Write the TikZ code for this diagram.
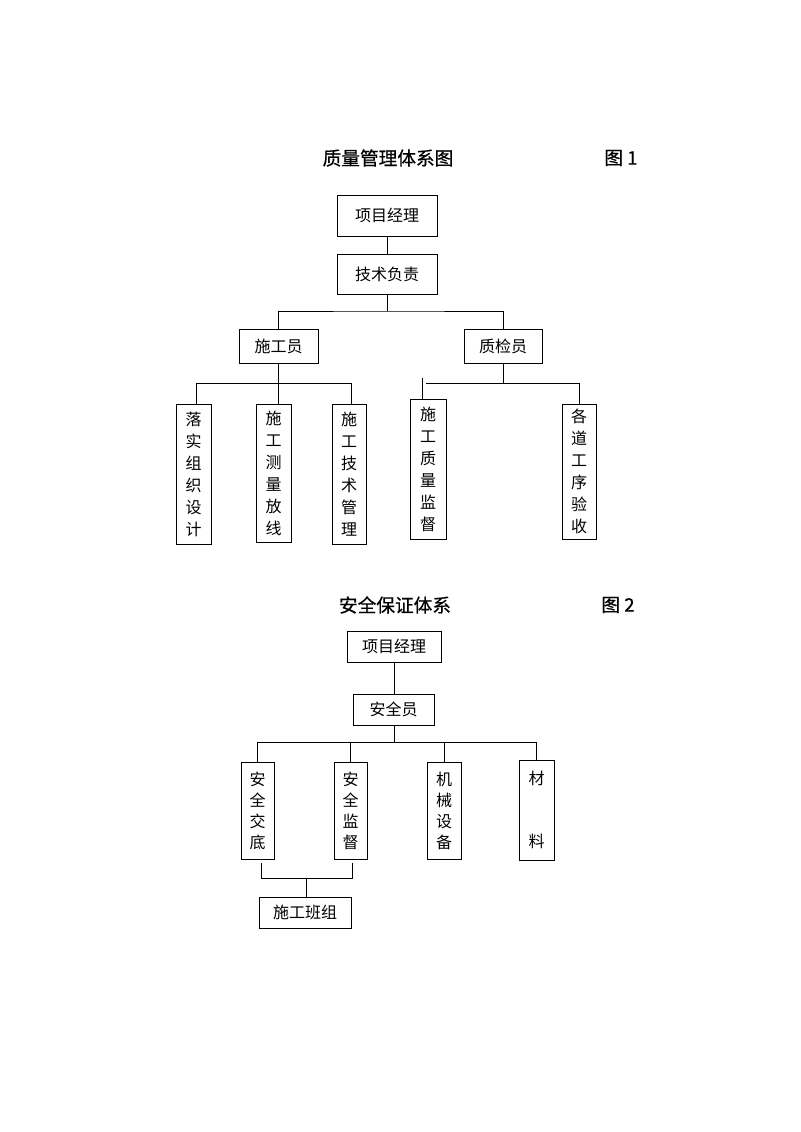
\documentclass[tikz,border=0pt]{standalone}
\usepackage{fontspec}
\setmainfont{Noto Sans CJK SC}
\newfontfamily\titlefont[FakeBold=0.6]{Noto Sans CJK SC}
\tikzset{
  box/.style={draw,line width=0.65pt,inner sep=0pt,align=center,font=\fontsize{12pt}{16.5pt}\selectfont},
  w/.style={minimum width=#1*0.75pt},
  h/.style={minimum height=#1*0.75pt},
  vtwo/.style={font=\fontsize{12pt}{15.75pt}\selectfont},
  conn/.style={line width=0.55pt},
  title/.style={font=\titlefont\fontsize{14pt}{16pt}\selectfont,inner sep=0pt}
}
\begin{document}
\begin{tikzpicture}[x=0.75pt,y=-0.75pt]
\useasboundingbox (0,0) rectangle (800,1132);

% Figure 1
\node[title] (t1) at (388,158) {质量管理体系图};
\node[title] (f1) at (621,158) {图 1};
\node[box,w=100,h=41] (pm1) at (387,215.5) {项目经理};
\node[box,w=100,h=40] (tech1) at (387,274) {技术负责};
\node[box,w=79,h=34] (sgy) at (278.5,346) {施工员};
\node[box,w=78,h=34] (zjy) at (503,346) {质检员};
\node[box,w=35,h=140] (c1) at (193.5,474) {落\\实\\组\\织\\设\\计};
\node[box,w=35,h=138] (c2) at (273.5,473) {施\\工\\测\\量\\放\\线};
\node[box,w=34,h=140] (c3) at (349,474) {施\\工\\技\\术\\管\\理};
\node[box,w=36,h=140] (c4) at (428,469) {施\\工\\质\\量\\监\\督};
\node[box,w=34,h=135] (c5) at (579,471.5) {各\\道\\工\\序\\验\\收};

\coordinate (j1) at (387,311);
\coordinate (j2) at (279,383);
\coordinate (h1) at (426,383);
\coordinate (s1) at (422,378);
\coordinate (x1) at (196,383);
\coordinate (x3) at (351,383);
\draw[conn] (pm1) -- (tech1);
\draw[conn] (tech1.south) -- (j1);
\draw[conn] (sgy.north) |- (j1) -| (zjy.north);
\draw[conn] (sgy.south) -- (sgy.south |- c2.north);
\draw[conn] (x1 |- c1.north) -- (x1) -- (x3) -- (x3 |- c3.north);
\draw[conn] (zjy.south) -- (zjy.south |- h1);
\draw[conn] (h1) -| (c5.north);
\draw[conn] (s1) -- (s1 |- c4.north);

% Figure 2
\node[title] (t2) at (395,605) {安全保证体系};
\node[title] (f2) at (618,605) {图 2};
\node[box,w=94,h=31] (pm2) at (394,646.5) {项目经理};
\node[box,w=81,h=31] (aqy) at (393.5,709.5) {安全员};
\node[box,w=33,h=97,vtwo] (d1) at (257.5,810.5) {安\\全\\交\\底};
\node[box,w=33,h=97,vtwo] (d2) at (350.5,810.5) {安\\全\\监\\督};
\node[box,w=34,h=97,vtwo] (d3) at (444,810.5) {机\\械\\设\\备};
\node[box,w=35,h=100,vtwo] (d4) at (536.5,810) {材\\~\\~\\料};
\node[box,w=92,h=31] (bz) at (305,912.5) {施工班组};

\coordinate (k1) at (394,742);
\coordinate (b1) at (261,863);
\coordinate (b2) at (352,863);
\coordinate (jb) at (306,878);
\draw[conn] (pm2.south -| k1) -- (aqy.north -| k1);
\draw[conn] (aqy.south -| k1) -- (k1);
\draw[conn] (d1.north) |- (k1) -| (d4.north);
\draw[conn] (d2.north) -- (d2.north |- k1);
\draw[conn] (d3.north) -- (d3.north |- k1);
\draw[conn] (b1) |- (jb) -| (b2);
\draw[conn] (jb) -- (bz.north -| jb);
\end{tikzpicture}
\end{document}
